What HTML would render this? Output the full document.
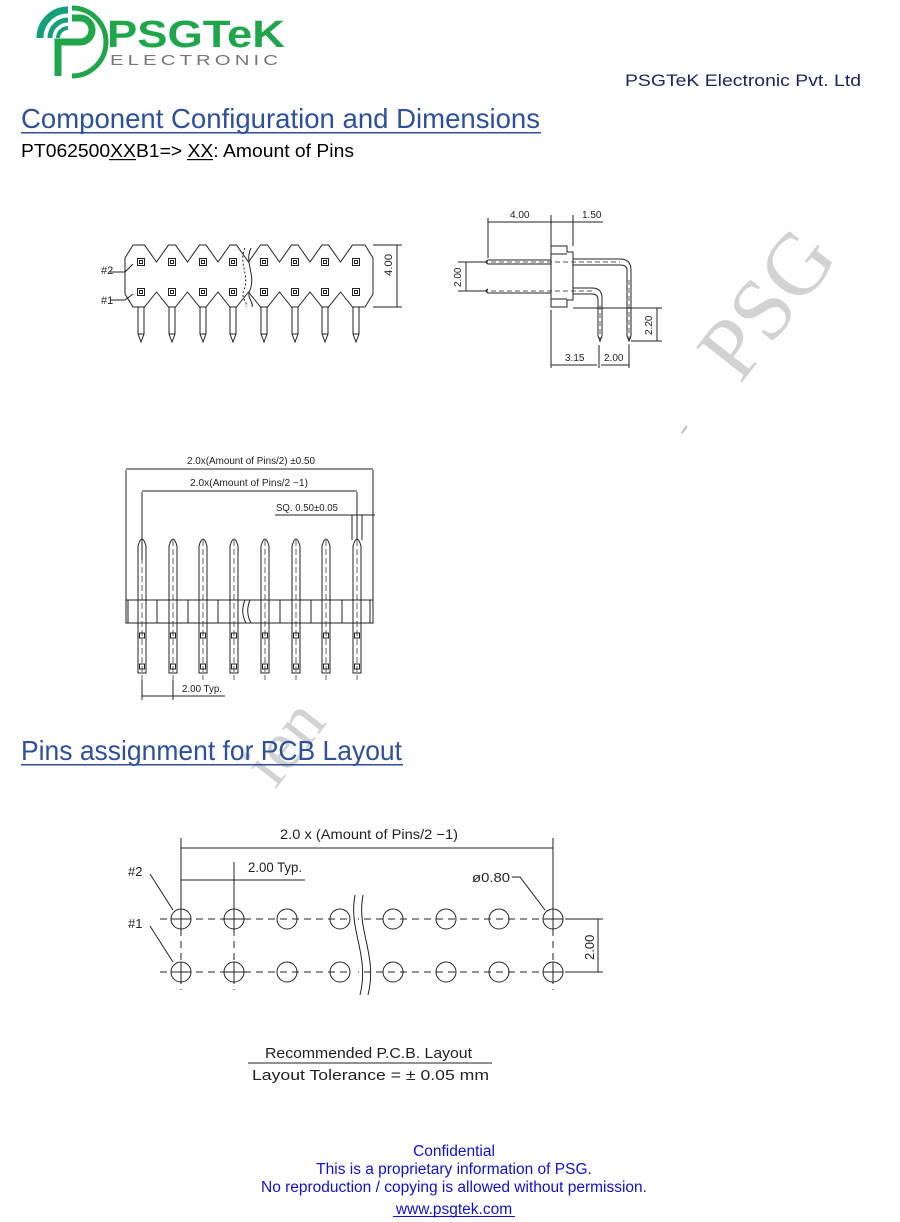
<!DOCTYPE html>
<html><head><meta charset="utf-8"><style>
html,body{margin:0;padding:0;background:#fff;}
svg{display:block}
</style></head><body>
<svg width="900" height="1222" viewBox="0 0 900 1222" xmlns="http://www.w3.org/2000/svg" font-family="Liberation Sans, sans-serif">
<rect width="900" height="1222" fill="#fff"/>
<!-- watermark fragments -->
<g fill="#d2d2d2" font-family="Liberation Serif, serif">
<text x="0" y="0" font-size="88" transform="translate(740,385) rotate(-52)">PSG</text>
<text x="0" y="0" font-size="70" transform="translate(275,790) rotate(-52)">ien</text>
</g>
<rect x="683" y="425" width="2" height="9" fill="#bbb" transform="rotate(35 684 430)"/>
<!-- logo -->
<g fill="none" stroke-linecap="butt">
<path d="M40,38 A28,28 0 0 1 68,10" stroke="#12a07a" stroke-width="7"/>
<path d="M50,38 A18,18 0 0 1 68,20" stroke="#12a07a" stroke-width="5"/>
<path d="M58,38 A10,10 0 0 1 68,28" stroke="#12a07a" stroke-width="4"/>
<path d="M58,76 V42 H80 A12,12 0 0 0 80,18 H72" stroke="#1fa64a" stroke-width="7"/>
<path d="M72,8 A34,34 0 0 1 72,76" stroke="#1fa64a" stroke-width="5"/>
</g>
<text x="107" y="47" font-size="38" font-weight="bold" fill="#1fa64a" textLength="178" lengthAdjust="spacingAndGlyphs">PSGTeK</text>
<text x="110" y="65" font-size="15" fill="#777" textLength="172" lengthAdjust="spacingAndGlyphs" letter-spacing="3">ELECTRONIC</text>
<text x="625" y="86" font-size="17" fill="#1a2560" textLength="236" lengthAdjust="spacingAndGlyphs">PSGTeK Electronic Pvt. Ltd</text>
<!-- title -->
<text x="21" y="128" font-size="28" fill="#2e4f9c" textLength="519" lengthAdjust="spacingAndGlyphs">Component Configuration and Dimensions</text>
<rect x="21" y="132" width="520" height="1.5" fill="#2e4f9c"/>
<text x="21" y="157" font-size="18" fill="#000" textLength="333" lengthAdjust="spacingAndGlyphs">PT062500XXB1=&gt; XX: Amount of Pins</text>
<rect x="109" y="159" width="27" height="1.2" fill="#000"/>
<rect x="187" y="159" width="26" height="1.2" fill="#000"/>

<g stroke="#222" stroke-width="1" fill="none">
<!-- top view -->
<path d="M133,245 L144.5,245 L156.5,262 L168.5,245 L175.5,245 L187.5,262 L199.5,245 L206,245 L218,262 L230,245 L236.5,245 L248.5,262 L260.5,245 L267.5,245 L279.5,262 L291.5,245 L298,245 L310,262 L322,245 L328.5,245 L340.5,262 L352.5,245 L365,245 L373,258 L373,294 L365,307 L352.5,307 L340.5,292 L328.5,307 L322,307 L310,292 L298,307 L291.5,307 L279.5,292 L267.5,307 L260.5,307 L248.5,292 L236.5,307 L230,307 L218,292 L206,307 L199.5,307 L187.5,292 L175.5,307 L168.5,307 L156.5,292 L144.5,307 L133,307 L125,294 L125,258 Z"/>
<path d="M245,248 C238,262 250,275 244,290 C240,298 248,302 246,307" stroke-dasharray="2,2"/>
<path d="M251,248 C244,262 256,275 250,290 C246,298 254,302 252,307"/>
<g id="tp">
<path d="M138,307 V334 L141,342 L144,334 V307 M138,334 H144"/>
<rect x="137.5" y="258.5" width="7" height="7"/><rect x="139.5" y="260.5" width="3" height="3"/>
<rect x="137.5" y="288.5" width="7" height="7"/><rect x="139.5" y="290.5" width="3" height="3"/>
</g>
<use href="#tp" x="31"/><use href="#tp" x="62"/><use href="#tp" x="92"/><use href="#tp" x="123"/><use href="#tp" x="154"/><use href="#tp" x="184"/><use href="#tp" x="215"/>
<path d="M373,245 H402 M373,307 H402 M397,245 V307"/>
<path d="M110,272 H125 L133,264 M110,300 H125 L133,294"/>
<!-- side view -->
<path d="M551,246 H567 V252 H573 V300 H567 V307 H551 Z M551,254 H567 M551,299 H567"/>
<path d="M488,260 Q484,262 488,264 H551 M573,259 H620 Q631,259 631,270 V336 L629,341 L627,336 V270 Q627,265 620,265 H573 M488,260 H551"/>
<path d="M488,289 Q484,291 488,293 H551 M573,288 H592 Q602,288 602,298 V336 L600,341 L598,336 V300 Q598,294 592,294 H573"/>
<path d="M475,262 H620 M475,291 H595 M600,305 V345 M629,280 V345" stroke-dasharray="5,3" stroke-width="0.7"/>
<path d="M488,258 V218 M551,246 V215 M573,246 V215 M488,222 H551 M551,222 H573 L603,222"/>
<path d="M458,262 H488 M458,291 H488 M466,262 V291"/>
<path d="M573,308 H662 M631,341 H662 M657,308 V341"/>
<path d="M551,310 V368 M599,345 V368 M629,345 V368 M551,365 H597 M601,365 H629"/>
<!-- front view -->
<path d="M126,600 H373 V623 H126 Z"/>
<path d="M126,470 V600 M373,470 V600 M142,492 V560 M357,492 V540 M352,515 V540 M362,515 V540 M126,469 H373 M142,491 H357 M275,515 H375"/>
<g id="fp">
<path d="M138,600 V546 Q142,532 146,546 V600 M138,600 V623 M146,600 V623 M138,623 V673 H146 V623"/>
<rect x="139.5" y="633" width="5" height="5"/><rect x="139.5" y="664" width="5" height="5"/>
<path d="M142,540 V680" stroke-dasharray="6,3" stroke-width="0.7"/>
</g>
<use href="#fp" x="31"/><use href="#fp" x="61"/><use href="#fp" x="92"/><use href="#fp" x="123"/><use href="#fp" x="154"/><use href="#fp" x="184"/><use href="#fp" x="215"/>
<path d="M128,600 V623 M157,600 V623 M188,600 V623 M218,600 V623 M280,600 V623 M311,600 V623 M342,600 V623 M370,600 V623"/>
<path d="M245,600 Q240,612 246,623 M250,600 Q245,612 251,623"/>
<path d="M142,680 V700 M173,680 V700 M142,696 H173 L225,696"/>
<!-- PCB -->
<path d="M181,838 V919 M553,838 V919 M181,848 H553 M234,862 V919 M181,880 H234 L305,880"/>
<path d="M150,874 L173,910 M150,926 L173,962 M512,877 H520 L545,910"/>
<path d="M565,919 H603 M565,972 H603 M598,919 V972"/>
<path d="M160,919 H575 M160,972 H575 M181,905 V990 M234,905 V990 M553,905 V990" stroke-dasharray="7,5"/>
<g id="pc"><circle cx="181" cy="919" r="10"/><circle cx="181" cy="972" r="10"/></g>
<use href="#pc" x="53"/><use href="#pc" x="106"/><use href="#pc" x="159"/><use href="#pc" x="212"/><use href="#pc" x="265"/><use href="#pc" x="318"/><use href="#pc" x="372"/>
<path d="M171,919 H191 M181,909 V929 M171,972 H191 M181,962 V982 M224,919 H244 M234,909 V929 M224,972 H244 M234,962 V982 M543,919 H563 M553,909 V929 M543,972 H563 M553,962 V982"/>
<path d="M248,1063 H492"/>
</g>
<rect x="352" y="895" width="6" height="100" fill="#fff"/>
<path d="M355,895 C348,930 370,955 360,995 M363,895 C356,930 378,955 368,995" stroke="#222" fill="none"/>
<g font-size="11" fill="#222">
<text x="392" y="276" transform="rotate(-90 392 276)" textLength="22" lengthAdjust="spacingAndGlyphs">4.00</text>
<text x="101" y="274">#2</text><text x="101" y="304">#1</text>
<text x="510" y="218" font-size="10">4.00</text><text x="582" y="218" font-size="10">1.50</text>
<text x="461" y="287" font-size="10" transform="rotate(-90 461 287)">2.00</text>
<text x="652" y="335" font-size="10" transform="rotate(-90 652 335)">2.20</text>
<text x="565" y="361" font-size="10">3.15</text><text x="604" y="361" font-size="10">2.00</text>
<text x="187" y="464" font-size="10" textLength="128" lengthAdjust="spacingAndGlyphs">2.0x(Amount of Pins/2) ±0.50</text>
<text x="190" y="486" font-size="10" textLength="118" lengthAdjust="spacingAndGlyphs">2.0x(Amount of Pins/2 −1)</text>
<text x="276" y="511" font-size="10" textLength="62" lengthAdjust="spacingAndGlyphs">SQ. 0.50±0.05</text>
<text x="182" y="692" font-size="10" textLength="40" lengthAdjust="spacingAndGlyphs">2.00 Typ.</text>
<text x="280" y="839" font-size="14" textLength="178" lengthAdjust="spacingAndGlyphs">2.0 x (Amount of Pins/2 −1)</text>
<text x="248" y="872" font-size="14" textLength="54" lengthAdjust="spacingAndGlyphs">2.00 Typ.</text>
<text x="472" y="882" font-size="13" textLength="38" lengthAdjust="spacingAndGlyphs">ø0.80</text>
<text x="128" y="876" font-size="13">#2</text><text x="128" y="928" font-size="13">#1</text>
<text x="594" y="960" font-size="13" transform="rotate(-90 594 960)">2.00</text>
<text x="265" y="1058" font-size="15" textLength="207" lengthAdjust="spacingAndGlyphs">Recommended P.C.B. Layout</text>
<text x="252" y="1080" font-size="15" textLength="237" lengthAdjust="spacingAndGlyphs">Layout Tolerance = ± 0.05 mm</text>
</g>
<text x="21" y="760" font-size="28" fill="#2e4f9c" textLength="381" lengthAdjust="spacingAndGlyphs">Pins assignment for PCB Layout</text>
<rect x="21" y="764" width="382" height="1.5" fill="#2e4f9c"/>
<g fill="#1010d0" font-size="15.5" text-anchor="middle">
<text x="454" y="1156">Confidential</text>
<text x="454" y="1174">This is a proprietary information of PSG.</text>
<text x="454" y="1192">No reproduction / copying is allowed without permission.</text>
<text x="454" y="1214">www.psgtek.com</text>
</g>
<rect x="393" y="1216" width="122" height="1" fill="#1010d0"/>
</svg>
</body></html>
